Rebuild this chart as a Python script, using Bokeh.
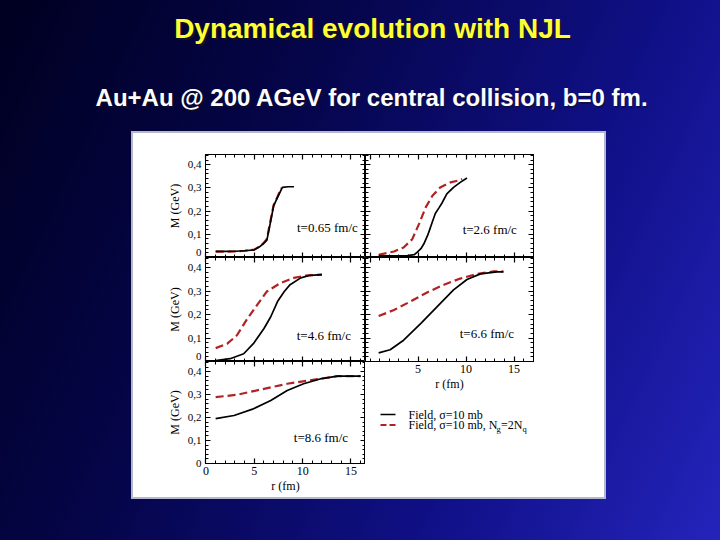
from bokeh.plotting import figure
from bokeh.layouts import column, row
from bokeh.models import Range1d, FixedTicker, LinearAxis, Spacer, Label, CustomJSTickFormatter
from bokeh.embed import file_html
from bokeh.resources import INLINE

# ---------------- data ----------------
# t = 0.65 fm/c
r_065_field = [1.0, 2.0, 3.0, 4.0, 5.0, 5.5, 5.9, 6.3, 6.7, 7.0, 7.4, 7.9, 8.5, 9.1]
m_065_field = [0.026, 0.026, 0.027, 0.029, 0.033, 0.045, 0.058, 0.075, 0.158, 0.223, 0.259, 0.302, 0.305, 0.305]
r_065_ng = [1.0, 2.0, 3.0, 4.0, 5.0, 5.5, 5.9, 6.3, 6.7, 7.0, 7.4, 7.8]
m_065_ng = [0.025, 0.025, 0.026, 0.029, 0.034, 0.047, 0.060, 0.080, 0.165, 0.226, 0.262, 0.300]

# t = 2.6 fm/c
r_26_field = [0.9, 2.0, 3.0, 3.9, 4.6, 4.9, 5.3, 5.6, 6.0, 6.3, 6.8, 7.2, 7.5, 8.0, 8.7, 9.4, 10.1]
m_26_field = [0.007, 0.007, 0.007, 0.008, 0.012, 0.022, 0.038, 0.058, 0.095, 0.130, 0.190, 0.215, 0.235, 0.274, 0.302, 0.324, 0.343]
r_26_ng = [0.9, 2.5, 3.5, 4.4, 5.1, 5.8, 6.5, 7.3, 8.4, 9.4, 9.6]
m_26_ng = [0.012, 0.026, 0.043, 0.079, 0.144, 0.216, 0.266, 0.302, 0.324, 0.334, 0.338]

# t = 4.6 fm/c
r_46_field = [1.0, 2.5, 3.9, 4.9, 6.0, 6.7, 7.4, 8.1, 8.7, 9.8, 10.8, 12.0]
m_46_field = [0.004, 0.012, 0.033, 0.076, 0.141, 0.191, 0.256, 0.299, 0.328, 0.357, 0.368, 0.371]
r_46_ng = [1.0, 2.2, 3.2, 4.3, 5.3, 6.3, 7.7, 9.1, 10.5, 12.0]
m_46_ng = [0.057, 0.076, 0.112, 0.184, 0.242, 0.299, 0.335, 0.357, 0.368, 0.371]

# t = 6.6 fm/c
r_66_field = [0.9, 2.1, 3.5, 5.3, 7.0, 8.7, 10.1, 11.5, 13.2, 13.9]
m_66_field = [0.037, 0.050, 0.091, 0.163, 0.234, 0.306, 0.350, 0.374, 0.383, 0.383]
r_66_ng = [0.9, 2.5, 4.2, 6.0, 7.7, 9.4, 11.2, 12.9, 13.9]
m_66_ng = [0.194, 0.220, 0.256, 0.296, 0.328, 0.354, 0.374, 0.385, 0.385]

# t = 8.6 fm/c
r_86_field = [1.0, 2.9, 4.9, 6.7, 8.4, 10.1, 11.8, 13.6, 16.0]
m_86_field = [0.195, 0.209, 0.238, 0.274, 0.318, 0.347, 0.368, 0.380, 0.380]
r_86_ng = [1.0, 3.2, 6.0, 8.4, 11.2, 13.6, 16.0]
m_86_ng = [0.289, 0.299, 0.325, 0.347, 0.365, 0.380, 0.380]

time_labels = ["t=0.65 fm/c", "t=2.6 fm/c", "t=4.6 fm/c", "t=6.6 fm/c", "t=8.6 fm/c"]
x_major = [0, 5, 10, 15]
x_major_no0 = [5, 10, 15]
x_minor = list(range(0, 18))
y_major = [0.0, 0.1, 0.2, 0.3, 0.4]
y_minor = [round(i * 0.02, 2) for i in range(0, 23)]
# label positions for stacked panels: the "0" is lifted a little so it stays inside its panel
y_label_pos_stacked = [0.02, 0.1, 0.2, 0.3, 0.4]
series_labels = ["Field, \u03c3=10 mb", "Field, \u03c3=10 mb, N"]

title_text = "Dynamical evolution with NJL"
subtitle_text = "Au+Au @ 200 AGeV for central collision, b=0 fm."

# ---------------- styling ----------------
SERIF = "Liberation Serif"
SANS = "Liberation Sans"
RED = "#b22222"

Y_FMT = CustomJSTickFormatter(code="return tick < 0.05 ? '0' : tick.toFixed(1).replace('.', ',');")
X_FMT = CustomJSTickFormatter(code="return tick.toFixed(0);")


def tick_axis(dim, major):
    if dim == "x":
        ticker = FixedTicker(ticks=major, minor_ticks=x_minor)
    else:
        ticker = FixedTicker(ticks=major, minor_ticks=y_minor)
    ax = LinearAxis(ticker=ticker)
    ax.major_tick_in = 5
    ax.major_tick_out = 0
    ax.minor_tick_in = 3
    ax.minor_tick_out = 0
    for a in ("axis_line_color", "major_tick_line_color", "minor_tick_line_color"):
        setattr(ax, a, "black")
    ax.major_tick_line_width = 1.2
    ax.major_label_text_color = None
    ax.major_label_standoff = 0
    ax.axis_label_standoff = 0
    return ax


def style_labels(ax, dim, axis_label, fmt):
    ax.formatter = fmt
    ax.major_label_text_font = SERIF
    ax.major_label_text_font_size = "11px" if dim == "y" else "12px"
    ax.major_label_text_color = "black"
    ax.major_label_standoff = 4 if dim == "y" else 3
    ax.axis_label = axis_label
    ax.axis_label_text_font = SERIF
    ax.axis_label_text_font_size = "12px"
    ax.axis_label_text_font_style = "normal"
    ax.axis_label_text_color = "black"
    ax.axis_label_standoff = 3 if dim == "y" else 1


def panel(width, height, xr, yr, left, right, top, bottom, ymode, xlabels, xmajor=None):
    p = figure(width=width, height=height, x_range=Range1d(*xr), y_range=Range1d(*yr),
               output_backend="svg", toolbar_location=None,
               x_axis_type=None, y_axis_type=None,
               min_border_left=left, min_border_right=right,
               min_border_top=top, min_border_bottom=bottom)
    p.background_fill_color = "white"
    p.border_fill_color = "white"
    p.outline_line_color = "black"
    p.outline_line_width = 1

    # left (y)
    ly = tick_axis("y", y_major)
    if ymode == "full":
        style_labels(ly, "y", "M (GeV)", Y_FMT)
        p.add_layout(ly, "left")
    else:
        p.add_layout(ly, "left")
        if ymode == "stacked":
            lab = LinearAxis(ticker=FixedTicker(ticks=y_label_pos_stacked, minor_ticks=[]))
            lab.axis_line_color = None
            lab.major_tick_line_color = None
            lab.minor_tick_line_color = None
            lab.major_tick_in = 0
            lab.major_tick_out = 0
            style_labels(lab, "y", "M (GeV)", Y_FMT)
            p.add_layout(lab, "left")

    # bottom (x)
    bx = tick_axis("x", xmajor or x_major)
    if xlabels:
        style_labels(bx, "x", "r (fm)", X_FMT)
    p.add_layout(bx, "below")

    p.add_layout(tick_axis("y", y_major), "right")
    p.add_layout(tick_axis("x", x_major), "above")
    return p


def curves(p, r1, m1, r2, m2):
    p.line(r2, m2, line_color=RED, line_width=2.2, line_dash="8 4")
    p.line(r1, m1, line_color="black", line_width=1.7)


def tlabel(p, x, y, txt):
    p.add_layout(Label(x=x, y=y, text=txt, text_align="right", text_baseline="middle",
                       text_font=SERIF, text_font_size="13px", text_color="black"))


XL = (-0.05, 16.5)
XR = (-0.47, 17.03)
YR = (0, 0.444)

p_tl = panel(232, 124, XL, YR, 72, 0, 21, 0, "stacked", False)
curves(p_tl, r_065_field, m_065_field, r_065_ng, m_065_ng)
tlabel(p_tl, 15.7, 0.128, time_labels[0])

p_ml = panel(232, 104, XL, YR, 72, 0, 0, 0, "stacked", False)
curves(p_ml, r_46_field, m_46_field, r_46_ng, m_46_ng)
tlabel(p_ml, 15.0, 0.112, time_labels[2])

p_bl = panel(232, 136, XL, YR, 72, 0, 0, 34, "full", True)
curves(p_bl, r_86_field, m_86_field, r_86_ng, m_86_ng)
tlabel(p_bl, 14.7, 0.115, time_labels[4])

p_tr = panel(239, 124, XR, YR, 0, 71, 21, 0, "none", False)
curves(p_tr, r_26_field, m_26_field, r_26_ng, m_26_ng)
tlabel(p_tr, 15.3, 0.12, time_labels[1])

p_mr = panel(239, 139, XR, YR, 0, 71, 0, 35, "none", True, xmajor=x_major_no0)
curves(p_mr, r_66_field, m_66_field, r_66_ng, m_66_ng)
tlabel(p_mr, 15.0, 0.12, time_labels[3])

# legend panel: local pixel-like coordinates, frame aligned with the panels above
p_lg = figure(width=239, height=101, x_range=Range1d(0, 168), y_range=Range1d(101, 0),
              output_backend="svg", toolbar_location=None, x_axis_type=None, y_axis_type=None,
              min_border_left=0, min_border_right=71, min_border_top=0, min_border_bottom=0)
p_lg.background_fill_color = "white"
p_lg.border_fill_color = "white"
p_lg.outline_line_color = None
p_lg.line([15, 30], [18, 18], line_color="black", line_width=1.7)
p_lg.line([15, 30], [28.5, 28.5], line_color=RED, line_width=2.2, line_dash="6 3")
lg_font = "12px"
p_lg.add_layout(Label(x=43, y=18, text=series_labels[0], text_baseline="middle",
                      text_font=SERIF, text_font_size=lg_font, text_color="black"))
p_lg.add_layout(Label(x=43, y=28.5, text=series_labels[1], text_baseline="middle",
                      text_font=SERIF, text_font_size=lg_font, text_color="black"))
p_lg.add_layout(Label(x=131, y=32.5, text="g", text_baseline="middle",
                      text_font=SERIF, text_font_size="8.5px", text_color="black"))
p_lg.add_layout(Label(x=135.5, y=28.5, text="=2N", text_baseline="middle",
                      text_font=SERIF, text_font_size=lg_font, text_color="black"))
p_lg.add_layout(Label(x=157, y=32.5, text="q", text_baseline="middle",
                      text_font=SERIF, text_font_size="8.5px", text_color="black"))

# title area
p_title = figure(width=720, height=133, x_range=Range1d(0, 720), y_range=Range1d(133, 0),
                 output_backend="svg", toolbar_location=None, x_axis_type=None, y_axis_type=None,
                 min_border=0)
p_title.background_fill_alpha = 0
p_title.border_fill_alpha = 0
p_title.outline_line_color = None
p_title.add_layout(Label(x=374, y=30, text=title_text, text_align="center", text_baseline="middle",
                         text_font=SANS, text_font_style="bold", text_font_size="28px",
                         text_color="#151515", text_alpha=0.85))
p_title.add_layout(Label(x=372, y=28, text=title_text, text_align="center", text_baseline="middle",
                         text_font=SANS, text_font_style="bold", text_font_size="28px",
                         text_color="#ffff33"))
p_title.add_layout(Label(x=373, y=98.5, text=subtitle_text, text_align="center", text_baseline="middle",
                         text_font=SANS, text_font_style="bold", text_font_size="24px",
                         text_color="#101020", text_alpha=0.6))
p_title.add_layout(Label(x=371.5, y=97, text=subtitle_text, text_align="center", text_baseline="middle",
                         text_font=SANS, text_font_style="bold", text_font_size="24px",
                         text_color="white"))

left_col = column(p_tl, p_ml, p_bl, styles={"background-color": "white"})
right_col = column(p_tr, p_mr, p_lg, styles={"background-color": "white"})
box = row(left_col, right_col,
          styles={"background-color": "white", "box-shadow": "0 0 0 2px #b4b8cc"})
mid = row(Spacer(width=133, height=364), box, Spacer(width=116, height=364))
root = column(p_title, mid, Spacer(width=720, height=43),
              styles={"background": "linear-gradient(115deg, #000020 0%, #05054a 35%, #101088 70%, #2424bc 100%)"})

open("out.html", "w").write(file_html(root, INLINE))
